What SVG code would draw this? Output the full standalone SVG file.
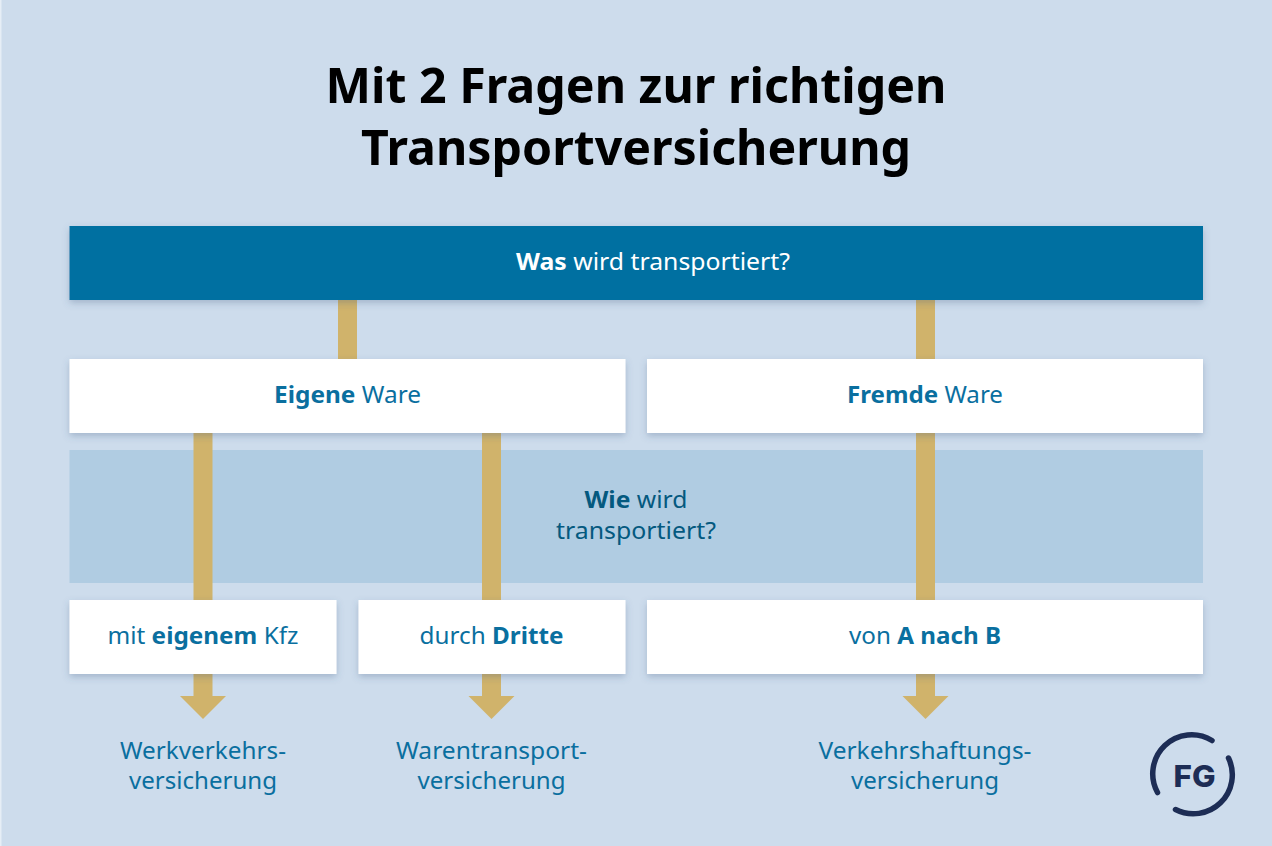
<svg xmlns="http://www.w3.org/2000/svg" width="1272" height="846" viewBox="0 0 1272 846">
<defs>
<style>
text{font-family:"Noto Sans","Open Sans","DejaVu Sans",sans-serif;font-size:24px;text-anchor:middle;fill:#0a6f9f}
.b{font-weight:700}
.t{font-size:48px;font-weight:700;fill:#000}
.box{fill:#fff;filter:url(#s)}
.gold{fill:#d0b36b}
</style>
<filter id="s" x="-5%" y="-20%" width="110%" height="150%"><feDropShadow dx="0" dy="3" stdDeviation="3.500" flood-color="#3d5a80" flood-opacity=".3"/></filter>
</defs>
<rect width="1272" height="846" fill="#cddcec"/>
<rect width="1.5" height="846" fill="#e6eef6"/>
<text class="t" x="636" y="103" textLength="621" lengthAdjust="spacingAndGlyphs">Mit 2 Fragen zur richtigen</text>
<text class="t" x="636" y="165" textLength="550" lengthAdjust="spacingAndGlyphs">Transportversicherung</text>
<rect id="band" x="69.500" y="450" width="1133.500" height="133" fill="#b0cce2"/>
<g id="connectors" class="gold">
<rect x="338" y="300" width="19" height="59"/>
<rect x="916" y="300" width="19" height="59"/>
<rect x="193.500" y="433" width="19" height="167"/>
<rect x="482" y="433" width="19" height="167"/>
<rect x="916" y="433" width="19" height="167"/>
<path d="M193.500 674h19v22h13.500l-23 23-23-23h13.500z"/>
<path d="M482 674h19v22h13.500l-23 23-23-23h13.500z"/>
<path d="M916 674h19v22h13.500l-23 23-23-23h13.500z"/>
</g>
<g id="n-was"><rect x="69.500" y="226" width="1133.500" height="74" fill="#066fa1" filter="url(#s)"/>
<text x="653" y="270" style="fill:#fff" textLength="274" lengthAdjust="spacingAndGlyphs"><tspan class="b" style="fill:#fff">Was</tspan> wird transportiert?</text></g>
<g id="n-eigene"><rect class="box" x="69.500" y="359" width="556" height="74"/>
<text x="347.500" y="403" textLength="147" lengthAdjust="spacingAndGlyphs"><tspan class="b">Eigene</tspan> Ware</text></g>
<g id="n-fremde"><rect class="box" x="647" y="359" width="556" height="74"/>
<text x="925" y="403" textLength="156" lengthAdjust="spacingAndGlyphs"><tspan class="b">Fremde</tspan> Ware</text></g>
<g id="n-wie"><text x="636" y="508" style="fill:#04597f" textLength="103" lengthAdjust="spacingAndGlyphs"><tspan class="b" style="fill:#04597f">Wie</tspan> wird</text>
<text x="636" y="539" style="fill:#04597f" textLength="160" lengthAdjust="spacingAndGlyphs">transportiert?</text></g>
<g id="n-kfz"><rect class="box" x="69.500" y="600" width="267" height="74"/>
<text x="203" y="644" textLength="191" lengthAdjust="spacingAndGlyphs">mit <tspan class="b">eigenem</tspan> Kfz</text></g>
<g id="n-dritte"><rect class="box" x="358.500" y="600" width="267" height="74"/>
<text x="491.500" y="644" textLength="144" lengthAdjust="spacingAndGlyphs">durch <tspan class="b">Dritte</tspan></text></g>
<g id="n-ab"><rect class="box" x="647" y="600" width="556" height="74"/>
<text x="925" y="644" textLength="152" lengthAdjust="spacingAndGlyphs">von <tspan class="b">A nach B</tspan></text></g>
<g id="r1"><text x="203" y="759" textLength="166" lengthAdjust="spacingAndGlyphs">Werkverkehrs-</text><text x="203" y="789" textLength="148" lengthAdjust="spacingAndGlyphs">versicherung</text></g>
<g id="r2"><text x="491.500" y="759" textLength="191" lengthAdjust="spacingAndGlyphs">Warentransport-</text><text x="491.500" y="789" textLength="148" lengthAdjust="spacingAndGlyphs">versicherung</text></g>
<g id="r3"><text x="925" y="759" textLength="213" lengthAdjust="spacingAndGlyphs">Verkehrshaftungs-</text><text x="925" y="789" textLength="148" lengthAdjust="spacingAndGlyphs">versicherung</text></g>
<g id="logo" fill="none" stroke="#1d2d55" stroke-width="5.500" stroke-linecap="round">
<path d="M1212 740.500A39 39 0 0 0 1157.500 792.500"/>
<path d="M1228.500 758A39 39 0 0 1 1175.500 809.500"/>
<text x="1194.500" y="787" textLength="42" lengthAdjust="spacingAndGlyphs" stroke="none" style="fill:#1d2d55;font-size:30px;font-weight:800;font-family:Inter,sans-serif">FG</text>
</g>
</svg>
